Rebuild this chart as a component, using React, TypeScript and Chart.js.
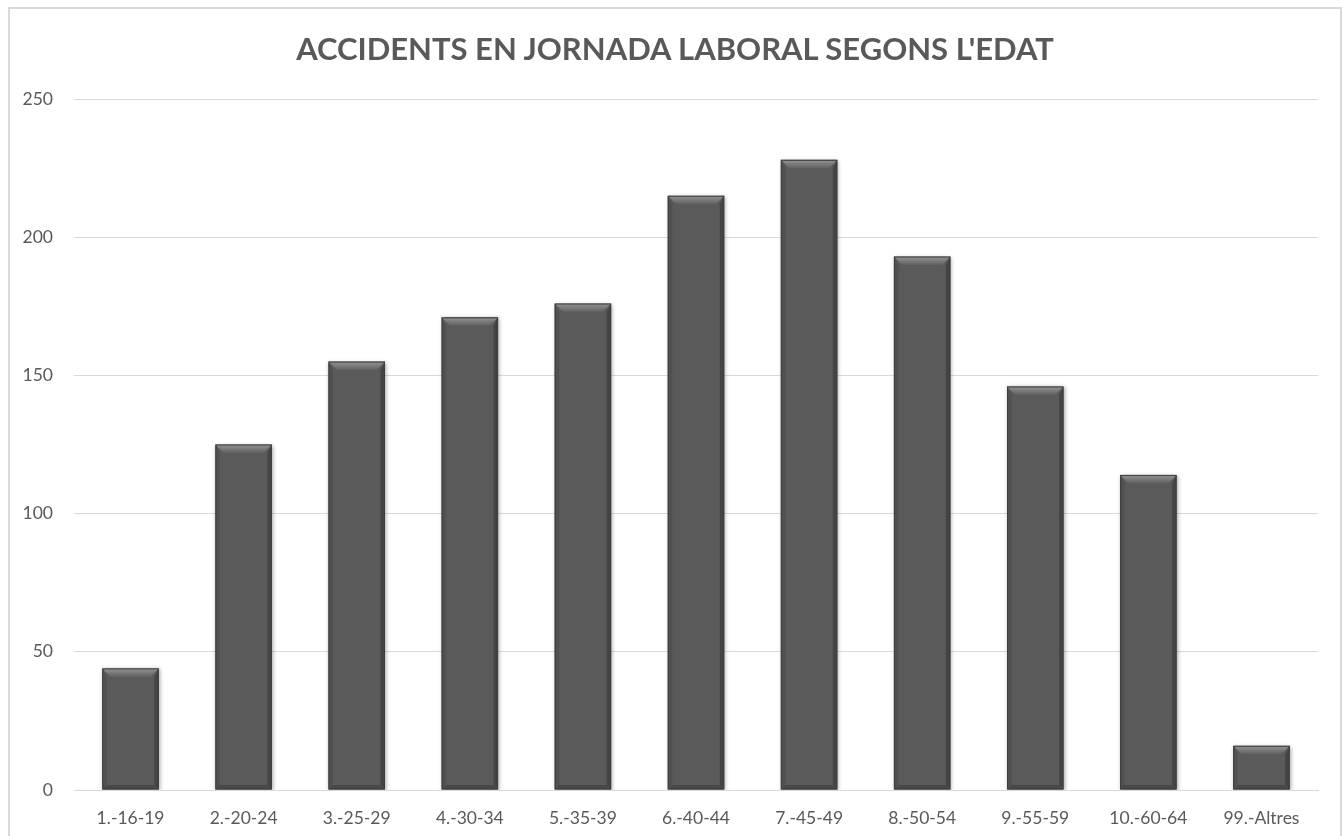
import React, { useEffect, useRef } from "react";
import { Chart, registerables } from "chart.js";

Chart.register(...registerables);

const categories = [
  "1.-16-19",
  "2.-20-24",
  "3.-25-29",
  "4.-30-34",
  "5.-35-39",
  "6.-40-44",
  "7.-45-49",
  "8.-50-54",
  "9.-55-59",
  "10.-60-64",
  "99.-Altres",
];
const accidents = [44, 125, 155, 171, 176, 215, 228, 193, 146, 114, 16];
const yTicks = [0, 50, 100, 150, 200, 250];
const titleText = "ACCIDENTS EN JORNADA LABORAL SEGONS L'EDAT";

const FONT = "Lato, 'Open Sans', sans-serif";
const TEXT = "#595959";

const bevelPlugin = {
  id: "bevel",
  beforeDatasetDraw(chart: any) {
    const ctx = chart.ctx;
    ctx.save();
    ctx.shadowColor = "rgba(0,0,0,0.35)";
    ctx.shadowBlur = 4;
    ctx.shadowOffsetX = 1;
    ctx.shadowOffsetY = 1;
  },
  afterDatasetDraw(chart: any) {
    const ctx = chart.ctx;
    ctx.restore();
    const meta = chart.getDatasetMeta(0);
    meta.data.forEach((el: any) => {
      const w = el.width;
      const l = el.x - w / 2 + 0.5;
      const r = el.x + w / 2 - 0.5;
      const t = el.y + 0.5;
      const b = el.base - 0.5;
      const h = b - t;
      const tb = Math.min(8, h / 2);
      const sb = Math.min(4, h / 2);
      ctx.save();
      const g = ctx.createLinearGradient(0, t, 0, t + tb);
      g.addColorStop(0, "#929292");
      g.addColorStop(1, "#606060");
      ctx.fillStyle = g;
      ctx.beginPath();
      ctx.moveTo(l, t);
      ctx.lineTo(r, t);
      ctx.lineTo(r - tb, t + tb);
      ctx.lineTo(l + tb, t + tb);
      ctx.closePath();
      ctx.fill();
      ctx.fillStyle = "#505050";
      ctx.beginPath();
      ctx.moveTo(l, t);
      ctx.lineTo(l + sb, t + tb);
      ctx.lineTo(l + sb, b - sb);
      ctx.lineTo(l, b);
      ctx.closePath();
      ctx.fill();
      ctx.fillStyle = "#444444";
      ctx.beginPath();
      ctx.moveTo(r, t);
      ctx.lineTo(r - sb, t + tb);
      ctx.lineTo(r - sb, b - sb);
      ctx.lineTo(r, b);
      ctx.closePath();
      ctx.fill();
      ctx.fillStyle = "#484848";
      ctx.beginPath();
      ctx.moveTo(l, b);
      ctx.lineTo(l + sb, b - sb);
      ctx.lineTo(r - sb, b - sb);
      ctx.lineTo(r, b);
      ctx.closePath();
      ctx.fill();
      ctx.strokeStyle = "#3c3c3c";
      ctx.lineWidth = 1;
      ctx.strokeRect(l, t, r - l, b - t);
      ctx.restore();
    });
  },
};

export default function App() {
  const ref = useRef<HTMLCanvasElement | null>(null);

  useEffect(() => {
    document.documentElement.style.overflow = "hidden";
    document.body.style.overflow = "hidden";
    if (!ref.current) return;
    const chart = new Chart(ref.current, {
      type: "bar",
      data: {
        labels: categories,
        datasets: [
          {
            data: accidents,
            backgroundColor: "#5a5a5a",
            borderColor: "#3c3c3c",
            borderWidth: 0,
            categoryPercentage: 1,
            barPercentage: 0.5,
          },
        ],
      },
      options: {
        animation: false,
        responsive: false,
        maintainAspectRatio: false,
        layout: { padding: { left: 10, right: 25, top: 99, bottom: 0 } },
        plugins: {
          legend: { display: false },
          tooltip: { enabled: false },
          title: { display: false },
        },
        scales: {
          x: {
            afterFit(scale: any) {
              scale.height = 46;
            },
            grid: { display: false, drawTicks: false },
            border: { display: true, color: "#d9d9d9", width: 1 },
            ticks: {
              color: TEXT,
              font: { family: FONT, size: 17.5 },
              padding: 18,
              maxRotation: 0,
              autoSkip: false,
            },
          },
          y: {
            min: 0,
            max: 250,
            afterBuildTicks(scale: any) {
              scale.ticks = yTicks.map((v) => ({ value: v }));
            },
            afterFit(scale: any) {
              scale.width = 64;
            },
            grid: { color: "#d9d9d9", lineWidth: 1, drawTicks: false },
            border: { display: false },
            ticks: {
              color: TEXT,
              font: { family: FONT, size: 17.5 },
              padding: 21,
            },
          },
        },
      },
      plugins: [bevelPlugin],
    });
    return () => chart.destroy();
  }, []);

  return (
    <div>
      <div
        style={{
          position: "absolute",
          left: 8,
          top: 7,
          width: 1334,
          height: 900,
          boxSizing: "border-box",
          border: "2px solid #d9d9d9",
          background: "#ffffff",
        }}
      />
      <canvas
        ref={ref}
        width={1343}
        height={836}
        style={{ position: "absolute", left: 0, top: 0, width: 1343, height: 836 }}
      />
      <div
        style={{
          position: "absolute",
          left: 8,
          top: 33,
          width: 1334,
          textAlign: "center",
          fontFamily: FONT,
          fontWeight: "bold",
          fontSize: 31,
          lineHeight: "31px",
          color: TEXT,
          whiteSpace: "nowrap",
        }}
      >
        {titleText}
      </div>
    </div>
  );
}
